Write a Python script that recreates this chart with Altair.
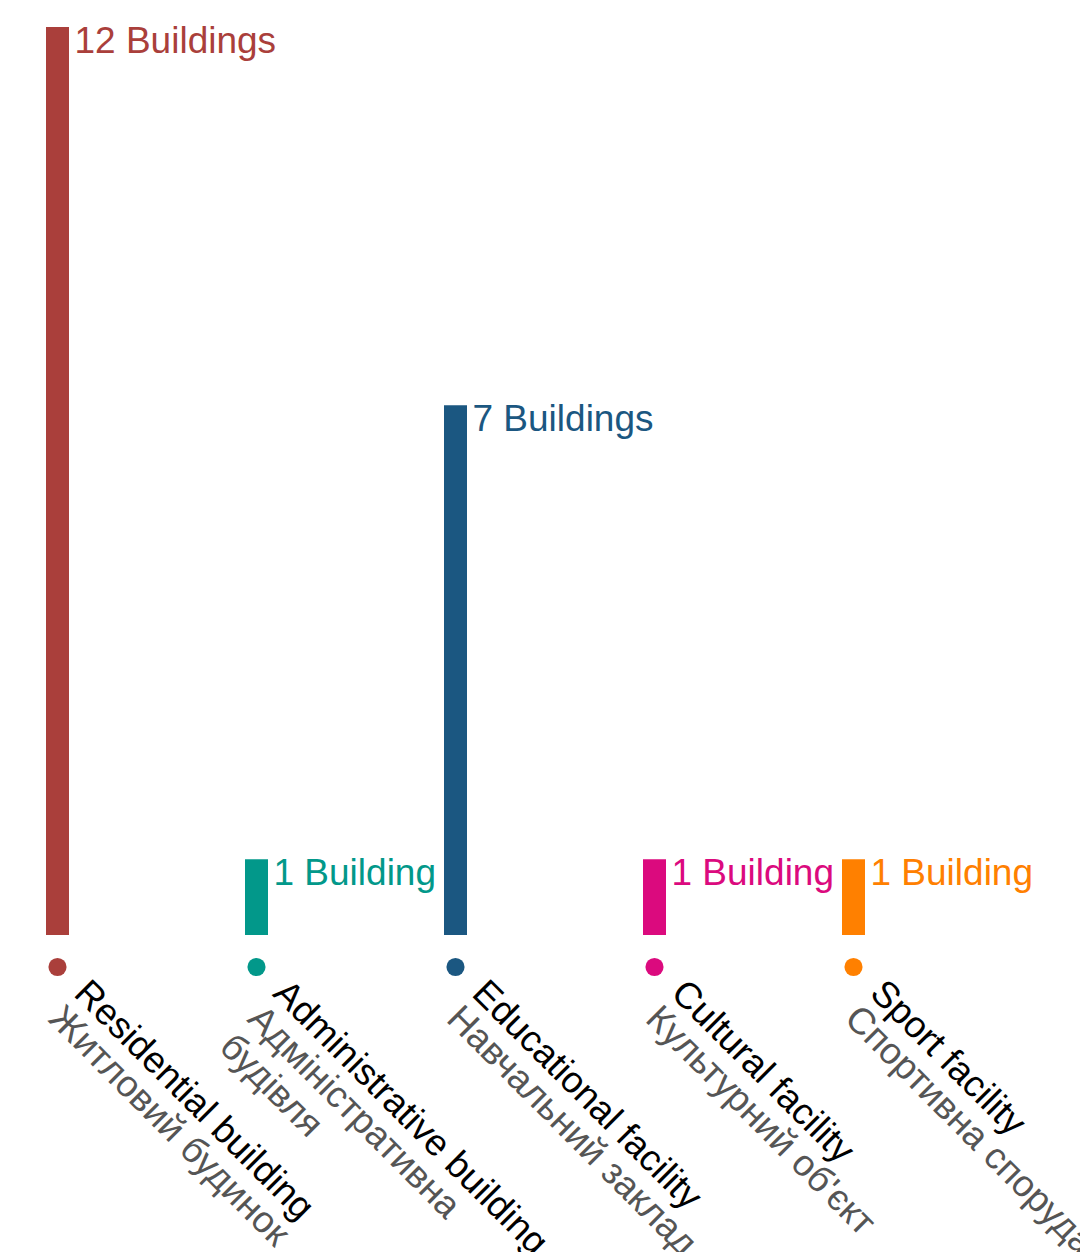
import altair as alt
import pandas as pd

categories_en = ["Residential building", "Administrative building", "Educational facility",
                 "Cultural facility", "Sport facility"]
categories_uk = ["Житловий будинок", "Адміністративна\nбудівля", "Навчальний заклад",
                 "Культурний об'єкт", "Спортивна споруда"]
counts = [12, 1, 7, 1, 1]
colors = ["#AA3F3B", "#02988A", "#1B5781", "#DB0A7E", "#FF8000"]

df = pd.DataFrame({
    "en": categories_en,
    "uk": categories_uk,
    "count": counts,
    "zero": [0] * len(counts),
    "label": [f"{n} Building{'s' if n != 1 else ''}" for n in counts],
})

FONT = "Liberation Sans"

x = alt.X("en:N", sort=categories_en, axis=None,
          scale=alt.Scale(type="point", padding=0, range=[49.5, 845.5]))
color = alt.Color("en:N", sort=categories_en,
                  scale=alt.Scale(domain=categories_en, range=colors), legend=None)
yscale = alt.Scale(domain=[0, 12.25], range=[927, 0], nice=False)

base = alt.Chart(df)

bars = base.mark_bar(size=23).encode(
    x=x, y=alt.Y("count:Q", scale=yscale, axis=None), color=color)

values = base.mark_text(align="left", baseline="alphabetic", dx=17, dy=26,
                        font=FONT, fontSize=37).encode(
    x=x, y=alt.Y("count:Q", scale=yscale), text="label:N", color=color)

dots = base.mark_circle(size=330, opacity=1, yOffset=32).encode(
    x=x, y=alt.Y("zero:Q", scale=yscale), color=color)

en_labels = base.mark_text(align="left", baseline="alphabetic", angle=45,
                           xOffset=15, yOffset=60, font=FONT, fontSize=37,
                           color="#000000").encode(
    x=x, y=alt.Y("zero:Q", scale=yscale), text="en:N")

uk_labels = base.mark_text(align="left", baseline="alphabetic", angle=45,
                           xOffset=15, yOffset=60, dy=36, lineBreak="\n", lineHeight=40,
                           font=FONT, fontSize=37, color="#555555").encode(
    x=x, y=alt.Y("zero:Q", scale=yscale), text="uk:N")

chart = alt.layer(bars, values, dots, en_labels, uk_labels).properties(
    width=1072, height=1244, padding=0, background="white",
    autosize=alt.AutoSizeParams(type="none")
).configure_view(stroke=None)

chart.save("out.html", embed_options={"renderer": "svg", "actions": False})
